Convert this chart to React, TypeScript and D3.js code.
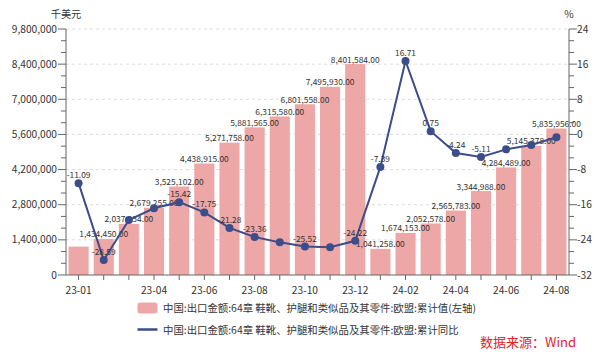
import React from "react";
import * as d3 from "d3";

const months = [
  "23-01", "23-02", "23-03", "23-04", "23-05", "23-06", "23-07", "23-08", "23-09", "23-10",
  "23-11", "23-12", "24-01", "24-02", "24-03", "24-04", "24-05", "24-06", "24-07", "24-08",
];
const cumValue = [
  1130000, 1434450, 2037154, 2679255, 3525102, 4438915, 5271758, 5881565, 6315580, 6801558,
  7495930, 8401584, 1041258, 1674153, 2052578, 2565783, 3344988, 4284489, 5145378, 5835956,
];
const cumYoy = [
  -11.09, -28.59, -19.5, -16.8, -15.42, -17.75, -21.28, -23.36, -24.57, -25.52,
  -25.7, -24.22, -7.39, 16.71, 0.75, -4.24, -5.11, -3.4, -2.4, -0.65,
];
const hiddenBarLabels = ["23-01"];
const shownYoyLabels = [
  "23-01", "23-02", "23-05", "23-06", "23-07", "23-08", "23-10", "23-12",
  "24-01", "24-02", "24-03", "24-04", "24-05",
];
const xTickLabels = ["23-01", "23-04", "23-06", "23-08", "23-10", "23-12", "24-02", "24-04", "24-06", "24-08"];
const leftTicks = [0, 1400000, 2800000, 4200000, 5600000, 7000000, 8400000, 9800000];
const rightTicks = [-32, -24, -16, -8, 0, 8, 16, 24];
const barName = "中国:出口金额:64章 鞋靴、护腿和类似品及其零件:欧盟:累计值(左轴)";
const lineName = "中国:出口金额:64章 鞋靴、护腿和类似品及其零件:欧盟:累计同比";

const W = 600, H = 358;
const L = 66, R = 569, T = 29, B = 275;
const BAR = "#eea7a7";
const LINE = "#3c4d8c";
const AXIS = "#666";
const TXT = "#333";
const FONT = "'Microsoft YaHei', 'Noto Sans CJK SC', 'Noto Sans', sans-serif";

export default function App() {
  const x = d3.scaleBand<string>().domain(months).range([L, R]).paddingInner(0.2).paddingOuter(0.1);
  const yL = d3.scaleLinear().domain([0, 9800000]).range([B, T]);
  const yR = d3.scaleLinear().domain([-32, 24]).range([B, T]);
  const cx = (m: string) => (x(m) as number) + x.bandwidth() / 2;
  const fmt = d3.format(",.2f");
  const fmtTick = d3.format(",");

  const leftMinor: number[] = [];
  for (let i = 0; i < leftTicks.length - 1; i++) {
    const a = leftTicks[i], b = leftTicks[i + 1];
    leftMinor.push(a + (b - a) / 3, a + (2 * (b - a)) / 3);
  }
  const rightMinor: number[] = [];
  for (let i = 0; i < rightTicks.length - 1; i++) {
    const a = rightTicks[i], b = rightTicks[i + 1];
    rightMinor.push(a + (b - a) / 3, a + (2 * (b - a)) / 3);
  }

  const line = d3
    .line<number>()
    .x((_, i) => cx(months[i]))
    .y((d) => yR(d));

  return (
    <svg
      width={W}
      height={H}
      style={{ position: "absolute", left: 0, top: 0, background: "#fff" }}
      fontFamily={FONT}
    >
      {/* grid */}
      {leftTicks.filter((t) => t > 0).map((t) => (
        <line key={"g" + t} x1={L} x2={R} y1={yL(t)} y2={yL(t)} stroke="#dcdcdc" strokeDasharray="3,3" strokeWidth={1} />
      ))}

      {/* bars */}
      {months.map((m, i) => (
        <rect key={"b" + m} x={x(m)} y={yL(cumValue[i])} width={x.bandwidth()} height={B - yL(cumValue[i])} fill={BAR} />
      ))}

      {/* bar labels */}
      {months.map((m, i) =>
        hiddenBarLabels.includes(m) ? null : (
          <text key={"bl" + m} x={cx(m)} y={yL(cumValue[i]) - 1.5} textAnchor="middle" fontSize={8.4} fill={TXT}>
            {fmt(cumValue[i])}
          </text>
        )
      )}

      {/* line */}
      <path d={line(cumYoy) || ""} fill="none" stroke={LINE} strokeWidth={2} />
      {months.map((m, i) => (
        <circle key={"c" + m} cx={cx(m)} cy={yR(cumYoy[i])} r={4} fill={LINE} />
      ))}
      {months.map((m, i) =>
        shownYoyLabels.includes(m) ? (
          <text key={"ll" + m} x={cx(m)} y={yR(cumYoy[i]) - 5} textAnchor="middle" fontSize={8.4} fill={TXT}>
            {cumYoy[i].toFixed(2)}
          </text>
        ) : null
      )}

      {/* left axis */}
      <line x1={L} x2={L} y1={T} y2={B} stroke={AXIS} strokeWidth={1} />
      {leftTicks.map((t) => (
        <g key={"lt" + t}>
          <line x1={L - 8} x2={L} y1={yL(t)} y2={yL(t)} stroke={AXIS} />
          <text x={L - 9} y={yL(t)} dy="0.35em" textAnchor="end" fontSize={10.2} fill={TXT}>
            {fmtTick(t)}
          </text>
        </g>
      ))}
      {leftMinor.map((t, i) => (
        <line key={"lm" + i} x1={L - 5} x2={L} y1={yL(t)} y2={yL(t)} stroke={AXIS} />
      ))}
      <text x={L} y={14} dy="0.35em" textAnchor="middle" fontSize={10.2} fill={TXT}>千美元</text>

      {/* right axis */}
      <line x1={R} x2={R} y1={T} y2={B} stroke={AXIS} strokeWidth={1} />
      {rightTicks.map((t) => (
        <g key={"rt" + t}>
          <line x1={R} x2={R + 8} y1={yR(t)} y2={yR(t)} stroke={AXIS} />
          <text x={R + 8} y={yR(t)} dy="0.35em" textAnchor="start" fontSize={10.2} fill={TXT}>
            {t}
          </text>
        </g>
      ))}
      {rightMinor.map((t, i) => (
        <line key={"rm" + i} x1={R} x2={R + 5} y1={yR(t)} y2={yR(t)} stroke={AXIS} />
      ))}
      <text x={R} y={14} dy="0.35em" textAnchor="middle" fontSize={10.2} fill={TXT}>%</text>

      {/* bottom axis */}
      <line x1={L} x2={R} y1={B} y2={B} stroke={AXIS} strokeWidth={1} />
      {months.map((m) => (
        <line key={"xt" + m} x1={cx(m)} x2={cx(m)} y1={B} y2={B + 5} stroke={AXIS} />
      ))}
      {months.map((m) =>
        xTickLabels.includes(m) ? (
          <text key={"xl" + m} x={cx(m)} y={290} dy="0.35em" textAnchor="middle" fontSize={10.2} fill={TXT}>
            {m}
          </text>
        ) : null
      )}

      {/* legend */}
      <rect x={137.5} y={302.5} width={20} height={11} rx={3} fill={BAR} />
      <text x={163} y={308} dy="0.35em" fontSize={10.4} fill={TXT}>{barName}</text>
      <line x1={137.5} x2={157.5} y1={329.5} y2={329.5} stroke={LINE} strokeWidth={2.5} />
      <text x={163} y={330} dy="0.35em" fontSize={10.4} fill={TXT}>{lineName}</text>

      {/* source */}
      <text x={576} y={342} dy="0.35em" textAnchor="end" fontSize={13} fill="#e0242a">数据来源：Wind</text>
    </svg>
  );
}
